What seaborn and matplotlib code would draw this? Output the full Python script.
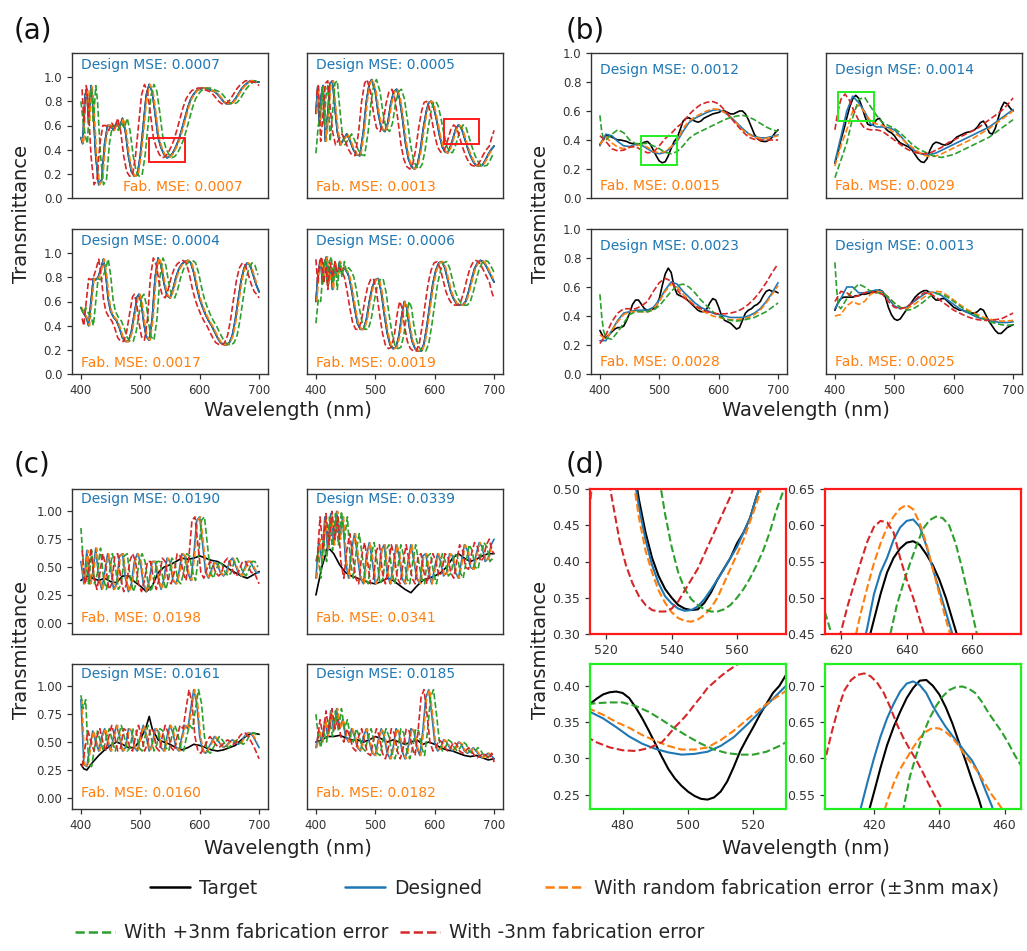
import numpy as np
import matplotlib
matplotlib.use("Agg")
import matplotlib.pyplot as plt
from matplotlib.lines import Line2D
from matplotlib.patches import Rectangle
import seaborn as sns

# ---------------------------------------------------------------- data
# (a) designed spectra (wavelength nm, transmittance); target tracks design
a1_wl = [400, 403, 407, 410, 413, 417, 420, 425, 430, 435, 440, 445, 450, 455, 460, 465, 470, 475, 480, 485, 490, 495, 500, 505, 510, 515, 520, 525, 530, 535, 540, 545, 550, 555, 560, 565, 570, 575, 580, 585, 590, 595, 600, 605, 610, 615, 620, 625, 630, 635, 640, 645, 650, 655, 660, 665, 670, 675, 680, 685, 690, 695, 700]
a1_des = [0.50, 0.45, 0.85, 0.90, 0.62, 0.93, 0.80, 0.35, 0.11, 0.15, 0.45, 0.60, 0.60, 0.56, 0.62, 0.58, 0.66, 0.55, 0.35, 0.22, 0.18, 0.19, 0.35, 0.60, 0.85, 0.94, 0.88, 0.70, 0.50, 0.415, 0.36, 0.333, 0.343, 0.375, 0.425, 0.485, 0.57, 0.66, 0.75, 0.82, 0.86, 0.89, 0.90, 0.91, 0.91, 0.90, 0.89, 0.88, 0.86, 0.83, 0.80, 0.78, 0.78, 0.79, 0.82, 0.86, 0.90, 0.93, 0.95, 0.97, 0.97, 0.96, 0.96]
a2_wl = [400, 403, 406, 409, 412, 416, 420, 424, 428, 432, 436, 441, 446, 452, 457, 463, 468, 474, 480, 485, 490, 494, 500, 505, 510, 516, 521, 526, 531, 536, 541, 546, 551, 556, 561, 566, 571, 576, 581, 586, 590, 594, 598, 603, 608, 613, 618, 622, 626, 630, 635, 640, 645, 650, 655, 660, 665, 670, 675, 680, 685, 690, 695, 700]
a2_des = [0.70, 0.92, 0.60, 0.85, 0.93, 0.47, 0.70, 0.95, 0.97, 0.75, 0.55, 0.44, 0.48, 0.53, 0.48, 0.40, 0.36, 0.35, 0.55, 0.80, 0.95, 0.98, 0.88, 0.70, 0.58, 0.55, 0.62, 0.78, 0.88, 0.90, 0.82, 0.65, 0.45, 0.32, 0.26, 0.24, 0.28, 0.40, 0.58, 0.72, 0.79, 0.80, 0.76, 0.65, 0.52, 0.42, 0.38, 0.375, 0.42, 0.48, 0.565, 0.605, 0.58, 0.50, 0.42, 0.35, 0.30, 0.27, 0.265, 0.27, 0.31, 0.36, 0.40, 0.43]
a3_wl = [400, 405, 410, 413, 417, 421, 425, 429, 433, 438, 442, 446, 450, 455, 460, 465, 470, 475, 480, 485, 490, 495, 498, 502, 506, 510, 515, 520, 525, 530, 535, 540, 545, 550, 555, 560, 565, 570, 575, 580, 585, 590, 595, 600, 605, 610, 615, 620, 625, 630, 635, 640, 645, 650, 655, 660, 665, 670, 675, 680, 685, 690, 695, 700]
a3_des = [0.55, 0.50, 0.46, 0.40, 0.60, 0.79, 0.78, 0.80, 0.86, 0.95, 0.82, 0.62, 0.52, 0.47, 0.44, 0.38, 0.30, 0.27, 0.27, 0.35, 0.50, 0.64, 0.66, 0.58, 0.42, 0.31, 0.28, 0.45, 0.80, 0.96, 0.90, 0.75, 0.65, 0.63, 0.70, 0.80, 0.87, 0.91, 0.93, 0.94, 0.92, 0.84, 0.72, 0.62, 0.55, 0.49, 0.44, 0.40, 0.35, 0.30, 0.26, 0.245, 0.24, 0.26, 0.32, 0.45, 0.62, 0.78, 0.88, 0.92, 0.90, 0.82, 0.74, 0.68]
a4_wl = [400, 404, 408, 411, 414, 418, 421, 425, 428, 432, 436, 440, 443, 447, 452, 456, 460, 465, 470, 475, 480, 485, 490, 495, 500, 505, 510, 515, 520, 525, 530, 535, 540, 545, 549, 553, 557, 562, 567, 572, 577, 582, 587, 592, 597, 602, 607, 612, 617, 622, 627, 632, 637, 642, 647, 652, 657, 662, 667, 672, 677, 682, 687, 692, 697, 700]
a4_des = [0.60, 0.85, 0.95, 0.75, 0.92, 0.97, 0.75, 0.88, 0.70, 0.92, 0.80, 0.93, 0.85, 0.88, 0.85, 0.80, 0.70, 0.55, 0.42, 0.37, 0.37, 0.45, 0.60, 0.72, 0.78, 0.79, 0.68, 0.50, 0.34, 0.24, 0.21, 0.22, 0.32, 0.50, 0.60, 0.55, 0.40, 0.27, 0.21, 0.19, 0.19, 0.25, 0.40, 0.58, 0.75, 0.86, 0.92, 0.93, 0.88, 0.78, 0.68, 0.62, 0.58, 0.57, 0.57, 0.60, 0.68, 0.78, 0.87, 0.92, 0.94, 0.93, 0.89, 0.84, 0.79, 0.76]

# spectral offset (nm) of each fabricated case relative to the design
SHIFT_RANDOM = 1.5
SHIFT_PLUS = 8.0
SHIFT_MINUS = -8.0

# edge segments of the shifted spectra that fall outside the designed band
a1_plus_head = [0.80, 0.62]
a2_plus_head = [0.37, 0.60]
a3_plus_head = [0.55, 0.50]
a4_plus_head = [0.42, 0.62]
a1_minus_tail = [0.95, 0.93]
a2_minus_tail = [0.50, 0.56]
a3_minus_tail = [0.66, 0.63]
a4_minus_tail = [0.68, 0.62]
HEAD_WL = [400, 404]
TAIL_WL = [696, 700]

# (b) all five spectra
WL5 = list(range(400, 701, 5))
WL10 = list(range(400, 701, 10))
WL10_HEAD = [400, 403, 406] + list(range(410, 701, 10))

b1_tgt = [0.37, 0.40, 0.43, 0.43, 0.42, 0.41, 0.40, 0.40, 0.395, 0.39, 0.38, 0.375, 0.37, 0.37, 0.375, 0.385, 0.39, 0.37, 0.33, 0.29,
          0.255, 0.243, 0.25, 0.29, 0.343, 0.39, 0.415, 0.47, 0.53, 0.55, 0.553, 0.54, 0.53, 0.523, 0.53, 0.55, 0.56, 0.57, 0.58, 0.585,
          0.59, 0.60, 0.60, 0.59, 0.58, 0.58, 0.59, 0.60, 0.60, 0.58, 0.54, 0.49, 0.44, 0.41, 0.395, 0.39, 0.39, 0.40, 0.42, 0.45, 0.47]
b1_des = [0.36, 0.44, 0.43, 0.39, 0.36, 0.355, 0.37, 0.365, 0.34, 0.315, 0.305, 0.315, 0.35, 0.39, 0.46, 0.52, 0.55, 0.57, 0.59, 0.605, 0.61, 0.59, 0.56, 0.52, 0.48, 0.445, 0.425, 0.415, 0.415, 0.425, 0.435]
b1_rand = [0.37, 0.42, 0.38, 0.35, 0.34, 0.35, 0.36, 0.368, 0.35, 0.32, 0.312, 0.32, 0.355, 0.395, 0.48, 0.53, 0.56, 0.58, 0.60, 0.615, 0.61, 0.59, 0.555, 0.515, 0.47, 0.44, 0.42, 0.41, 0.41, 0.42, 0.43]
b1_plus = [0.57, 0.46, 0.41, 0.40, 0.44, 0.47, 0.45, 0.40, 0.375, 0.375, 0.377, 0.36, 0.34, 0.315, 0.305, 0.32, 0.36, 0.41, 0.44, 0.46, 0.48, 0.50, 0.52, 0.54, 0.555, 0.565, 0.57, 0.56, 0.54, 0.515, 0.49, 0.47, 0.46]
b1_minus = [0.43, 0.39, 0.34, 0.325, 0.33, 0.35, 0.355, 0.33, 0.312, 0.315, 0.36, 0.41, 0.445, 0.49, 0.52, 0.575, 0.615, 0.645, 0.66, 0.665, 0.65, 0.605, 0.555, 0.505, 0.46, 0.42, 0.405, 0.40, 0.40, 0.40, 0.40]

b2_tgt = [0.24, 0.31, 0.40, 0.47, 0.553, 0.63, 0.683, 0.708, 0.688, 0.635, 0.57, 0.51, 0.50, 0.51, 0.54, 0.55, 0.52, 0.48, 0.46, 0.45,
          0.43, 0.40, 0.38, 0.37, 0.36, 0.35, 0.33, 0.30, 0.27, 0.25, 0.245, 0.27, 0.33, 0.37, 0.385, 0.38, 0.37, 0.365, 0.37, 0.38,
          0.40, 0.42, 0.43, 0.44, 0.45, 0.455, 0.46, 0.47, 0.49, 0.52, 0.53, 0.50, 0.45, 0.44, 0.48, 0.55, 0.62, 0.66, 0.65, 0.62, 0.60]
b2_des = [0.25, 0.42, 0.60, 0.703, 0.657, 0.597, 0.51, 0.49, 0.49, 0.485, 0.47, 0.43, 0.38, 0.34, 0.31, 0.30, 0.30, 0.31, 0.33, 0.35, 0.37, 0.39, 0.41, 0.43, 0.45, 0.47, 0.49, 0.52, 0.55, 0.58, 0.61]
b2_rand = [0.22, 0.36, 0.47, 0.60, 0.641, 0.592, 0.53, 0.51, 0.50, 0.48, 0.45, 0.42, 0.38, 0.35, 0.32, 0.295, 0.285, 0.29, 0.305, 0.325, 0.345, 0.365, 0.385, 0.405, 0.43, 0.455, 0.48, 0.51, 0.54, 0.57, 0.60]
b2_plus = [0.14, 0.26, 0.38, 0.555, 0.68, 0.694, 0.63, 0.57, 0.52, 0.50, 0.48, 0.45, 0.41, 0.37, 0.34, 0.32, 0.30, 0.285, 0.28, 0.29, 0.30, 0.32, 0.34, 0.36, 0.38, 0.40, 0.42, 0.45, 0.48, 0.51, 0.54]
b2_minus_wl = [400, 405, 410, 417, 425, 430] + list(range(440, 701, 10))
b2_minus = [0.47, 0.597, 0.68, 0.717, 0.67, 0.62, 0.535, 0.48, 0.47, 0.47, 0.46, 0.43, 0.40, 0.37, 0.34, 0.32, 0.31, 0.305, 0.31, 0.33, 0.35, 0.38, 0.40, 0.42, 0.44, 0.46, 0.48, 0.51, 0.54, 0.57, 0.60, 0.64, 0.69]

b3_tgt = [0.30, 0.26, 0.25, 0.27, 0.29, 0.31, 0.32, 0.32, 0.33, 0.37, 0.42, 0.48, 0.51, 0.51, 0.48, 0.45, 0.44, 0.44, 0.45, 0.47,
          0.52, 0.61, 0.69, 0.73, 0.70, 0.60, 0.55, 0.54, 0.53, 0.52, 0.50, 0.48, 0.46, 0.44, 0.43, 0.43, 0.45, 0.49, 0.52, 0.51,
          0.46, 0.40, 0.37, 0.36, 0.35, 0.33, 0.31, 0.32, 0.37, 0.42, 0.44, 0.45, 0.47, 0.48, 0.50, 0.54, 0.57, 0.58, 0.57, 0.57, 0.56]
b3_des = [0.23, 0.23, 0.30, 0.37, 0.42, 0.43, 0.44, 0.44, 0.44, 0.46, 0.51, 0.58, 0.635, 0.62, 0.57, 0.53, 0.49, 0.46, 0.44, 0.42, 0.41, 0.40, 0.39, 0.39, 0.39, 0.40, 0.42, 0.45, 0.50, 0.56, 0.63]
b3_rand = [0.27, 0.24, 0.30, 0.36, 0.41, 0.43, 0.43, 0.43, 0.425, 0.45, 0.50, 0.57, 0.62, 0.60, 0.55, 0.51, 0.47, 0.44, 0.42, 0.40, 0.39, 0.38, 0.375, 0.375, 0.38, 0.39, 0.41, 0.44, 0.49, 0.55, 0.61]
b3_plus = [0.55, 0.40, 0.30, 0.25, 0.24, 0.29, 0.35, 0.41, 0.43, 0.43, 0.43, 0.44, 0.47, 0.52, 0.57, 0.61, 0.62, 0.60, 0.56, 0.51, 0.47, 0.43, 0.40, 0.38, 0.37, 0.365, 0.37, 0.38, 0.39, 0.41, 0.43, 0.46, 0.49]
b3_minus = [0.21, 0.27, 0.36, 0.42, 0.45, 0.45, 0.45, 0.47, 0.50, 0.57, 0.63, 0.66, 0.64, 0.58, 0.53, 0.50, 0.47, 0.45, 0.43, 0.42, 0.415, 0.415, 0.42, 0.43, 0.45, 0.48, 0.52, 0.57, 0.63, 0.70, 0.76]

b4_tgt = [0.44, 0.49, 0.52, 0.53, 0.53, 0.53, 0.53, 0.54, 0.54, 0.55, 0.55, 0.555, 0.56, 0.565, 0.57, 0.58, 0.57, 0.53, 0.46, 0.41,
          0.38, 0.37, 0.38, 0.41, 0.44, 0.47, 0.50, 0.53, 0.55, 0.565, 0.575, 0.575, 0.56, 0.53, 0.51, 0.51, 0.52, 0.52, 0.50, 0.48,
          0.46, 0.45, 0.44, 0.44, 0.43, 0.425, 0.42, 0.42, 0.43, 0.45, 0.44, 0.40, 0.36, 0.33, 0.30, 0.28, 0.28, 0.30, 0.32, 0.33, 0.34]
b4_des = [0.45, 0.52, 0.60, 0.60, 0.56, 0.56, 0.57, 0.58, 0.57, 0.52, 0.47, 0.45, 0.46, 0.49, 0.52, 0.55, 0.565, 0.56, 0.54, 0.51, 0.48, 0.45, 0.43, 0.41, 0.39, 0.38, 0.37, 0.36, 0.355, 0.355, 0.36]
b4_rand = [0.40, 0.41, 0.47, 0.50, 0.48, 0.50, 0.55, 0.57, 0.565, 0.53, 0.49, 0.46, 0.45, 0.47, 0.50, 0.53, 0.56, 0.57, 0.565, 0.54, 0.51, 0.48, 0.45, 0.43, 0.41, 0.39, 0.38, 0.37, 0.365, 0.365, 0.37]
b4_plus = [0.77, 0.58, 0.47, 0.45, 0.52, 0.58, 0.62, 0.60, 0.57, 0.56, 0.56, 0.53, 0.49, 0.46, 0.44, 0.445, 0.47, 0.50, 0.535, 0.555, 0.55, 0.53, 0.50, 0.47, 0.44, 0.42, 0.40, 0.38, 0.36, 0.35, 0.34, 0.335, 0.34]
b4_minus = [0.50, 0.57, 0.56, 0.53, 0.54, 0.56, 0.57, 0.56, 0.55, 0.50, 0.46, 0.45, 0.46, 0.49, 0.53, 0.56, 0.555, 0.53, 0.50, 0.47, 0.44, 0.42, 0.40, 0.385, 0.375, 0.37, 0.37, 0.375, 0.38, 0.40, 0.42]

# (c) designed spectra (5 nm) and targets (10 nm)
c1_des = [0.55, 0.35, 0.65, 0.35, 0.45, 0.67, 0.40, 0.30, 0.45, 0.62, 0.50, 0.30, 0.35, 0.60, 0.62, 0.40, 0.28, 0.35, 0.55, 0.62,
          0.55, 0.35, 0.28, 0.38, 0.55, 0.55, 0.40, 0.30, 0.40, 0.58, 0.55, 0.38, 0.35, 0.45, 0.62, 0.60, 0.45, 0.38, 0.60, 0.92,
          0.95, 0.70, 0.45, 0.40, 0.48, 0.55, 0.52, 0.45, 0.42, 0.45, 0.55, 0.58, 0.52, 0.45, 0.42, 0.48, 0.55, 0.55, 0.50, 0.45, 0.45]
c1_tgt = [0.38, 0.42, 0.40, 0.38, 0.40, 0.37, 0.36, 0.42, 0.42, 0.37, 0.33, 0.28, 0.33, 0.45, 0.50, 0.52, 0.55, 0.58, 0.57, 0.58, 0.60, 0.58, 0.56, 0.55, 0.52, 0.48, 0.45, 0.42, 0.40, 0.43, 0.46]
c2_des = [0.40, 0.75, 0.55, 0.95, 0.65, 0.98, 0.70, 1.00, 0.75, 0.95, 0.55, 0.40, 0.65, 0.80, 0.60, 0.40, 0.35, 0.60, 0.72, 0.55,
          0.35, 0.40, 0.65, 0.70, 0.45, 0.35, 0.50, 0.70, 0.60, 0.40, 0.35, 0.55, 0.70, 0.55, 0.40, 0.35, 0.60, 0.62, 0.45, 0.35,
          0.50, 0.62, 0.55, 0.42, 0.45, 0.62, 0.60, 0.45, 0.40, 0.55, 0.70, 0.65, 0.50, 0.48, 0.62, 0.72, 0.68, 0.55, 0.58, 0.70, 0.75]
c2_tgt = [0.25, 0.50, 0.68, 0.62, 0.52, 0.45, 0.42, 0.40, 0.38, 0.36, 0.35, 0.37, 0.40, 0.38, 0.34, 0.30, 0.27, 0.33, 0.38, 0.40, 0.42, 0.45, 0.50, 0.58, 0.62, 0.58, 0.55, 0.57, 0.60, 0.62, 0.62]
c3_des = [0.88, 0.30, 0.28, 0.45, 0.60, 0.50, 0.42, 0.55, 0.62, 0.50, 0.42, 0.55, 0.65, 0.55, 0.42, 0.45, 0.62, 0.60, 0.45, 0.42,
          0.55, 0.65, 0.55, 0.42, 0.48, 0.62, 0.60, 0.45, 0.42, 0.55, 0.65, 0.58, 0.45, 0.42, 0.55, 0.65, 0.62, 0.80, 0.97, 0.85,
          0.55, 0.42, 0.40, 0.45, 0.50, 0.55, 0.52, 0.48, 0.45, 0.47, 0.50, 0.52, 0.50, 0.48, 0.50, 0.55, 0.58, 0.58, 0.55, 0.50, 0.45]
c3_tgt_wl = [400, 405, 410, 420, 430, 440, 450, 460, 470, 480, 490, 500, 510, 515, 520, 530, 540, 550, 560, 570, 580, 590, 600, 610, 620, 630, 640, 650, 660, 670, 680, 690, 700]
c3_tgt = [0.30, 0.26, 0.25, 0.32, 0.38, 0.43, 0.47, 0.50, 0.48, 0.45, 0.45, 0.52, 0.64, 0.73, 0.62, 0.52, 0.50, 0.48, 0.45, 0.43, 0.45, 0.48, 0.47, 0.45, 0.43, 0.42, 0.43, 0.45, 0.47, 0.52, 0.56, 0.58, 0.57]
c4_des = [0.45, 0.60, 0.50, 0.70, 0.55, 0.78, 0.60, 0.80, 0.62, 0.70, 0.55, 0.50, 0.62, 0.55, 0.45, 0.42, 0.55, 0.62, 0.50, 0.40,
          0.38, 0.52, 0.62, 0.55, 0.40, 0.35, 0.45, 0.62, 0.58, 0.42, 0.35, 0.45, 0.62, 0.60, 0.45, 0.38, 0.60, 0.90, 0.97, 0.75,
          0.50, 0.42, 0.45, 0.52, 0.50, 0.45, 0.42, 0.45, 0.50, 0.48, 0.42, 0.40, 0.42, 0.45, 0.42, 0.38, 0.36, 0.38, 0.40, 0.38, 0.35]
c4_tgt = [0.50, 0.52, 0.55, 0.55, 0.56, 0.54, 0.52, 0.52, 0.50, 0.52, 0.55, 0.53, 0.50, 0.52, 0.50, 0.48, 0.50, 0.52, 0.48, 0.50, 0.48, 0.45, 0.43, 0.42, 0.40, 0.38, 0.37, 0.38, 0.36, 0.34, 0.35]
c1_plus_head = [0.85, 0.55]
c2_plus_head = [0.55, 0.65]
c3_plus_head = [0.92, 0.80]
c4_plus_head = [0.75, 0.55]
c1_minus_tail = [0.40, 0.35]
c2_minus_tail = [0.65, 0.62]
c3_minus_tail = [0.40, 0.35]
c4_minus_tail = [0.40, 0.32]

# (d) close-ups of the boxed regions
d1_wl = [526, 528, 530, 532, 534, 536, 538, 540, 542, 544, 546, 548, 550, 552, 554, 556, 558, 560, 562, 564, 566, 568, 570]
d1_tgt = [0.60, 0.54, 0.485, 0.44, 0.405, 0.38, 0.362, 0.35, 0.34, 0.335, 0.333, 0.334, 0.343, 0.357, 0.375, 0.39, 0.405, 0.425, 0.44, 0.46, 0.49, 0.515, 0.54]
d1_des = [0.60, 0.53, 0.475, 0.43, 0.395, 0.37, 0.352, 0.342, 0.335, 0.332, 0.333, 0.338, 0.348, 0.361, 0.375, 0.39, 0.405, 0.42, 0.44, 0.46, 0.49, 0.515, 0.54]
d1_rand = [0.60, 0.52, 0.46, 0.415, 0.385, 0.36, 0.343, 0.33, 0.322, 0.318, 0.317, 0.32, 0.326, 0.336, 0.35, 0.37, 0.39, 0.41, 0.43, 0.455, 0.48, 0.51, 0.54]
d1_minus_wl = [516, 518, 520, 522, 524, 526, 528, 530, 532, 534, 536, 538, 540, 542, 544, 546, 548, 550, 552, 554, 556, 558, 560, 562]
d1_minus = [0.72, 0.60, 0.53, 0.48, 0.43, 0.395, 0.37, 0.352, 0.34, 0.333, 0.331, 0.331, 0.335, 0.345, 0.36, 0.375, 0.39, 0.41, 0.43, 0.45, 0.47, 0.49, 0.515, 0.55]
d1_plus_wl = [510, 512, 514, 516, 518, 520, 526, 532, 534, 536, 538, 540, 542, 544, 546, 548, 550, 552, 554, 556, 558, 560, 562, 564, 566, 568, 570, 572, 574, 576, 578]
d1_plus = [0.32, 0.38, 0.44, 0.52, 0.62, 0.75, 0.90, 0.72, 0.60, 0.52, 0.465, 0.42, 0.385, 0.362, 0.348, 0.34, 0.334, 0.331, 0.331, 0.334, 0.34, 0.35, 0.362, 0.377, 0.395, 0.415, 0.44, 0.47, 0.495, 0.52, 0.55]

d2_tgt_wl = [626, 628, 630, 632, 634, 636, 638, 640, 642, 644, 646, 648, 650, 652, 654, 656, 658]
d2_tgt = [0.40, 0.435, 0.47, 0.505, 0.535, 0.555, 0.568, 0.576, 0.578, 0.573, 0.56, 0.545, 0.525, 0.50, 0.47, 0.44, 0.41]
d2_des_wl = [624, 626, 628, 630, 632, 634, 636, 638, 640, 642, 644, 646, 648, 650, 652, 654, 656]
d2_des = [0.38, 0.42, 0.46, 0.505, 0.535, 0.555, 0.58, 0.597, 0.606, 0.608, 0.598, 0.572, 0.54, 0.51, 0.48, 0.45, 0.42]
d2_rand_wl = [620, 622, 624, 626, 628, 630, 632, 634, 636, 638, 640, 642, 644, 646, 648, 650, 652, 654, 656]
d2_rand = [0.36, 0.40, 0.44, 0.48, 0.515, 0.548, 0.575, 0.597, 0.612, 0.623, 0.628, 0.622, 0.603, 0.575, 0.54, 0.505, 0.47, 0.44, 0.41]
d2_minus_wl = [614, 616, 618, 620, 622, 624, 626, 628, 630, 632, 634, 636, 638, 640, 642, 644, 646, 648]
d2_minus = [0.34, 0.38, 0.42, 0.455, 0.49, 0.52, 0.55, 0.578, 0.598, 0.606, 0.604, 0.59, 0.555, 0.525, 0.50, 0.47, 0.44, 0.41]
d2_plus_wl = [611, 613, 615, 617, 619, 625, 631, 633, 635, 637, 639, 641, 643, 645, 647, 649, 651, 653, 655, 657, 659, 661, 663]
d2_plus = [0.57, 0.52, 0.48, 0.45, 0.42, 0.385, 0.39, 0.42, 0.45, 0.49, 0.52, 0.547, 0.572, 0.595, 0.607, 0.612, 0.61, 0.60, 0.575, 0.54, 0.50, 0.46, 0.42]

d3_tgt_wl = list(range(468, 533, 2))
d3_tgt = [0.37, 0.375, 0.382, 0.388, 0.391, 0.392, 0.39, 0.383, 0.37, 0.355, 0.338, 0.32, 0.302, 0.285, 0.272, 0.262, 0.254, 0.248, 0.244, 0.243, 0.246, 0.254, 0.268, 0.288, 0.31, 0.327, 0.343, 0.36, 0.375, 0.39, 0.40, 0.415, 0.43]
d3_wl = [466, 470, 474, 478, 482, 486, 490, 494, 498, 502, 506, 510, 514, 518, 522, 526, 530, 534]
d3_des = [0.37, 0.364, 0.355, 0.343, 0.33, 0.32, 0.313, 0.308, 0.305, 0.306, 0.309, 0.317, 0.329, 0.346, 0.364, 0.382, 0.40, 0.42]
d3_rand = [0.373, 0.368, 0.36, 0.35, 0.342, 0.332, 0.324, 0.317, 0.312, 0.312, 0.315, 0.325, 0.338, 0.353, 0.368, 0.381, 0.393, 0.41]
d3_plus_wl = [466, 468, 472, 476, 480, 484, 488, 492, 496, 500, 504, 508, 512, 516, 520, 524, 528, 532]
d3_plus = [0.372, 0.374, 0.376, 0.377, 0.377, 0.372, 0.364, 0.353, 0.341, 0.33, 0.32, 0.312, 0.307, 0.305, 0.305, 0.309, 0.317, 0.327]
d3_minus_wl = [466, 468, 472, 476, 480, 484, 488, 492, 494, 496, 498, 500, 502, 504, 506, 508, 510, 512, 514, 516, 520]
d3_minus = [0.338, 0.332, 0.322, 0.315, 0.311, 0.31, 0.314, 0.322, 0.332, 0.343, 0.352, 0.362, 0.374, 0.385, 0.397, 0.405, 0.413, 0.42, 0.426, 0.432, 0.445]

d4_tgt_wl = list(range(414, 457, 2))
d4_tgt = [0.46, 0.49, 0.52, 0.553, 0.587, 0.618, 0.643, 0.664, 0.683, 0.697, 0.707, 0.708, 0.70, 0.688, 0.67, 0.648, 0.622, 0.597, 0.57, 0.545, 0.515, 0.48]
d4_des_wl = list(range(412, 459, 2))
d4_des = [0.47, 0.50, 0.532, 0.567, 0.60, 0.63, 0.655, 0.675, 0.692, 0.703, 0.706, 0.701, 0.69, 0.672, 0.657, 0.643, 0.631, 0.62, 0.608, 0.597, 0.58, 0.557, 0.535, 0.51]
d4_rand_wl = list(range(420, 463, 2))
d4_rand = [0.47, 0.51, 0.54, 0.565, 0.585, 0.60, 0.615, 0.628, 0.637, 0.642, 0.641, 0.636, 0.628, 0.617, 0.603, 0.592, 0.58, 0.565, 0.55, 0.538, 0.525, 0.51]
d4_plus_wl = list(range(427, 468, 2))
d4_plus = [0.48, 0.53, 0.575, 0.605, 0.633, 0.655, 0.672, 0.685, 0.694, 0.698, 0.699, 0.696, 0.69, 0.678, 0.663, 0.65, 0.637, 0.622, 0.605, 0.59, 0.57]
d4_minus_wl = list(range(403, 444, 2))
d4_minus = [0.56, 0.597, 0.635, 0.668, 0.694, 0.708, 0.715, 0.717, 0.713, 0.704, 0.69, 0.67, 0.647, 0.628, 0.612, 0.597, 0.58, 0.562, 0.545, 0.528, 0.51]

mse_design = {"a1": "0.0007", "a2": "0.0005", "a3": "0.0004", "a4": "0.0006",
              "b1": "0.0012", "b2": "0.0014", "b3": "0.0023", "b4": "0.0013",
              "c1": "0.0190", "c2": "0.0339", "c3": "0.0161", "c4": "0.0185"}
mse_fab = {"a1": "0.0007", "a2": "0.0013", "a3": "0.0017", "a4": "0.0019",
           "b1": "0.0015", "b2": "0.0029", "b3": "0.0028", "b4": "0.0025",
           "c1": "0.0198", "c2": "0.0341", "c3": "0.0160", "c4": "0.0182"}

legend_labels = ["Target", "Designed", "With random fabrication error (\u00b13nm max)",
                 "With +3nm fabrication error", "With -3nm fabrication error"]

# ---------------------------------------------------------------- style
sns.set_theme(style="ticks")
plt.rcParams["font.family"] = ["DejaVu Sans"]
plt.rcParams.update({
    "axes.edgecolor": "#333333",
    "axes.linewidth": 1.0,
    "xtick.color": "#333333",
    "ytick.color": "#333333",
    "xtick.major.size": 3.5,
    "ytick.major.size": 3.5,
    "xtick.major.width": 0.9,
    "ytick.major.width": 0.9,
})

COL = {"target": "black", "designed": "#1f77b4", "random": "#ff7f0e",
       "plus": "#2ca02c", "minus": "#d62728"}
LS = {"target": "-", "designed": "-", "random": "--", "plus": "--", "minus": "--"}
ORDER = ["target", "designed", "random", "plus", "minus"]
BOX_RED = "#ff1a1a"
BOX_GREEN = "#22ee22"

W, H = 1027, 951
fig = plt.figure(figsize=(W / 100, H / 100), dpi=100)
fig.patch.set_facecolor("white")


def add_ax(left, top, w=196, h=145):
    ax = fig.add_axes([left / W, 1 - (top + h) / H, w / W, h / H])
    ax.set_facecolor("white")
    for s in ax.spines.values():
        s.set_visible(True)
    return ax


def curve(ax, x, y, kind, lw):
    sns.lineplot(x=np.asarray(x, float), y=np.asarray(y, float), ax=ax,
                 color=COL[kind], linestyle=LS[kind], linewidth=lw,
                 estimator=None, sort=False, legend=False)


def shifted(wl, vals, shift, edge_wl=None, edge_vals=None, at_end=False):
    x = np.asarray(wl, float) + shift
    y = np.asarray(vals, float)
    keep = (x >= 400) & (x <= 700)
    x, y = x[keep], y[keep]
    if edge_wl is not None:
        if at_end:
            x = np.concatenate([x, edge_wl]); y = np.concatenate([y, edge_vals])
        else:
            x = np.concatenate([edge_wl, x]); y = np.concatenate([edge_vals, y])
    return x, y


def spectra_panel(ax, wl, des, tgt_wl, tgt, head, tail, lw=1.2):
    curve(ax, tgt_wl, tgt, "target", lw)
    curve(ax, wl, des, "designed", lw)
    x, y = shifted(wl, des, SHIFT_RANDOM)
    curve(ax, x, y, "random", lw)
    x, y = shifted(wl, des, SHIFT_PLUS, HEAD_WL, head)
    curve(ax, x, y, "plus", lw)
    x, y = shifted(wl, des, SHIFT_MINUS, TAIL_WL, tail, at_end=True)
    curve(ax, x, y, "minus", lw)


def full_panel(ax, series, lw=1.2):
    for kind in ORDER:
        x, y = series[kind]
        curve(ax, x, y, kind, lw)


def finish(ax, key, ylim, yticks, show_x, show_y, ytext, fab_x=0.045, tick_fs=8.5):
    ax.set_xlim(385, 715)
    ax.set_ylim(*ylim)
    ax.set_xlabel("")
    ax.set_ylabel("")
    if show_x:
        ax.set_xticks([400, 500, 600, 700])
    else:
        ax.set_xticks([])
    if show_y:
        ax.set_yticks(yticks)
    else:
        ax.set_yticks([])
    ax.tick_params(labelsize=tick_fs, labelcolor="#333333")
    ax.text(0.045, ytext[0], f"Design MSE: {mse_design[key]}", transform=ax.transAxes,
            color="#1f77b4", fontsize=10, va="center", ha="left")
    ax.text(fab_x, ytext[1], f"Fab. MSE: {mse_fab[key]}", transform=ax.transAxes,
            color="#ff7f0e", fontsize=10, va="center", ha="left")


# ---------------------------------------------------------------- (a)
yt_a = [0.0, 0.2, 0.4, 0.6, 0.8, 1.0]
a_specs = [
    ("a1", (72, 53), a1_wl, a1_des, a1_plus_head, a1_minus_tail, False, True, 0.26),
    ("a2", (307, 53), a2_wl, a2_des, a2_plus_head, a2_minus_tail, False, False, 0.045),
    ("a3", (72, 229), a3_wl, a3_des, a3_plus_head, a3_minus_tail, True, True, 0.045),
    ("a4", (307, 229), a4_wl, a4_des, a4_plus_head, a4_minus_tail, True, False, 0.045),
]
for key, pos, wl, des, head, tail, sx, sy, fx in a_specs:
    ax = add_ax(*pos)
    spectra_panel(ax, wl, des, wl, des, head, tail)
    finish(ax, key, (0, 1.2), yt_a, sx, sy, (0.915, 0.075), fab_x=fx)
    if key == "a1":
        ax.add_patch(Rectangle((515, 0.30), 60, 0.20, fill=False, ec=BOX_RED, lw=1.4, zorder=5))
    if key == "a2":
        ax.add_patch(Rectangle((615, 0.45), 60, 0.20, fill=False, ec=BOX_RED, lw=1.4, zorder=5))

# ---------------------------------------------------------------- (b)
b_sets = {
    "b1": {"target": (WL5, b1_tgt), "designed": (WL10, b1_des), "random": (WL10, b1_rand),
           "plus": (WL10_HEAD, b1_plus), "minus": (WL10, b1_minus)},
    "b2": {"target": (WL5, b2_tgt), "designed": (WL10, b2_des), "random": (WL10, b2_rand),
           "plus": (WL10, b2_plus), "minus": (b2_minus_wl, b2_minus)},
    "b3": {"target": (WL5, b3_tgt), "designed": (WL10, b3_des), "random": (WL10, b3_rand),
           "plus": (WL10_HEAD, b3_plus), "minus": (WL10, b3_minus)},
    "b4": {"target": (WL5, b4_tgt), "designed": (WL10, b4_des), "random": (WL10, b4_rand),
           "plus": (WL10_HEAD, b4_plus), "minus": (WL10, b4_minus)},
}
yt_b = [0.0, 0.2, 0.4, 0.6, 0.8, 1.0]
b_pos = {"b1": (591, 53, False, True), "b2": (826, 53, False, False),
         "b3": (591, 229, True, True), "b4": (826, 229, True, False)}
for key, (l, t, sx, sy) in b_pos.items():
    ax = add_ax(l, t)
    full_panel(ax, b_sets[key])
    finish(ax, key, (0, 1.0), yt_b, sx, sy, (0.885, 0.085))
    if key == "b1":
        ax.add_patch(Rectangle((470, 0.23), 60, 0.20, fill=False, ec=BOX_GREEN, lw=1.4, zorder=5))
    if key == "b2":
        ax.add_patch(Rectangle((405, 0.53), 60, 0.20, fill=False, ec=BOX_GREEN, lw=1.4, zorder=5))

# ---------------------------------------------------------------- (c)
yt_c = [0.0, 0.25, 0.5, 0.75, 1.0]
c_specs = [
    ("c1", (72, 489), c1_des, WL10, c1_tgt, c1_plus_head, c1_minus_tail, False, True),
    ("c2", (307, 489), c2_des, WL10, c2_tgt, c2_plus_head, c2_minus_tail, False, False),
    ("c3", (72, 664), c3_des, c3_tgt_wl, c3_tgt, c3_plus_head, c3_minus_tail, True, True),
    ("c4", (307, 664), c4_des, WL10, c4_tgt, c4_plus_head, c4_minus_tail, True, False),
]
for key, pos, des, twl, tgt, head, tail, sx, sy in c_specs:
    ax = add_ax(*pos)
    spectra_panel(ax, WL5, des, twl, tgt, head, tail)
    finish(ax, key, (-0.1, 1.2), yt_c, sx, sy, (0.93, 0.11))

# ---------------------------------------------------------------- (d)
d_specs = [
    ((590, 489), BOX_RED, (515, 575), (0.30, 0.50), [520, 540, 560], [0.30, 0.35, 0.40, 0.45, 0.50],
     {"target": (d1_wl, d1_tgt), "designed": (d1_wl, d1_des), "random": (d1_wl, d1_rand),
      "plus": (d1_plus_wl, d1_plus), "minus": (d1_minus_wl, d1_minus)}),
    ((825, 489), BOX_RED, (615, 675), (0.45, 0.65), [620, 640, 660], [0.45, 0.50, 0.55, 0.60, 0.65],
     {"target": (d2_tgt_wl, d2_tgt), "designed": (d2_des_wl, d2_des), "random": (d2_rand_wl, d2_rand),
      "plus": (d2_plus_wl, d2_plus), "minus": (d2_minus_wl, d2_minus)}),
    ((590, 664), BOX_GREEN, (470, 530), (0.23, 0.43), [480, 500, 520], [0.25, 0.30, 0.35, 0.40],
     {"target": (d3_tgt_wl, d3_tgt), "designed": (d3_wl, d3_des), "random": (d3_wl, d3_rand),
      "plus": (d3_plus_wl, d3_plus), "minus": (d3_minus_wl, d3_minus)}),
    ((825, 664), BOX_GREEN, (405, 465), (0.53, 0.73), [420, 440, 460], [0.55, 0.60, 0.65, 0.70],
     {"target": (d4_tgt_wl, d4_tgt), "designed": (d4_des_wl, d4_des), "random": (d4_rand_wl, d4_rand),
      "plus": (d4_plus_wl, d4_plus), "minus": (d4_minus_wl, d4_minus)}),
]
for pos, edge, xl, yl, xt, yt, series in d_specs:
    ax = add_ax(*pos)
    full_panel(ax, series, lw=1.5)
    ax.set_xlim(*xl)
    ax.set_ylim(*yl)
    ax.set_xticks(xt)
    ax.set_yticks(yt)
    ax.set_xlabel("")
    ax.set_ylabel("")
    ax.tick_params(labelsize=9, labelcolor="#333333")
    for s in ax.spines.values():
        s.set_edgecolor(edge)
        s.set_linewidth(1.6)

# ---------------------------------------------------------------- labels
for txt, x, y in [("(a)", 14, 30), ("(b)", 566, 30), ("(c)", 14, 464), ("(d)", 566, 464)]:
    fig.text(x / W, 1 - y / H, txt, fontsize=20, ha="left", va="center", color="#111111")

for x, y in [(22, 214), (541, 214), (22, 650), (541, 650)]:
    fig.text(x / W, 1 - y / H, "Transmittance", rotation=90, fontsize=14,
             ha="center", va="center", color="#222222")
for x, y in [(288, 410), (806, 410), (288, 848), (806, 848)]:
    fig.text(x / W, 1 - y / H, "Wavelength (nm)", fontsize=14,
             ha="center", va="center", color="#222222")

# ---------------------------------------------------------------- legend
leg_pos = [(150, 888), (345, 888), (545, 888), (75, 933), (400, 933)]
for kind, label, (x, y) in zip(ORDER, legend_labels, leg_pos):
    h = Line2D([], [], color=COL[kind], linestyle=LS[kind], linewidth=1.8)
    fig.legend(handles=[h], labels=[label], loc="center left",
               bbox_to_anchor=(x / W, 1 - y / H), frameon=False, fontsize=13.5,
               handlelength=2.15, handletextpad=0.45, borderpad=0, borderaxespad=0)

fig.savefig("out.png", dpi=100)
